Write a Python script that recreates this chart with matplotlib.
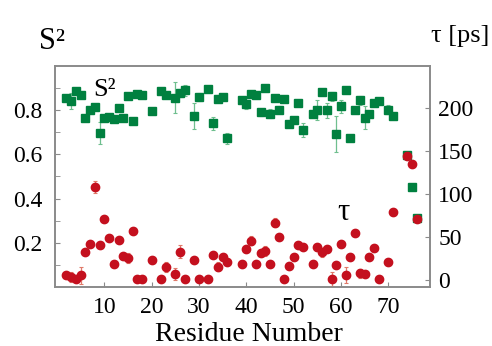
import numpy as np
import matplotlib.pyplot as plt
from matplotlib import font_manager

# make sure a Times-like serif face is picked up
for f in font_manager.findSystemFonts():
    if 'LiberationSerif' in f.replace(' ', ''):
        font_manager.fontManager.addfont(f)
plt.rcParams['font.family'] = ['Liberation Serif', 'DejaVu Serif']

# residue numbers (ubiquitin, prolines missing)
residues = [2, 3, 4, 5, 6, 7, 8, 9, 10, 11, 12, 13, 14, 15, 16, 17, 18, 20, 22, 23,
            25, 26, 27, 29, 30, 32, 33, 34, 35, 36, 39, 40, 41, 42, 43, 44, 45, 46, 47, 48,
            49, 50, 51, 52, 54, 55, 56, 57, 58, 59, 60, 61, 62, 63, 64, 65, 66, 67, 68, 70,
            71, 74, 75, 76]

s2 = [0.855, 0.842, 0.886, 0.871, 0.765, 0.800, 0.813, 0.698, 0.763, 0.770, 0.761, 0.809,
      0.763, 0.863, 0.750, 0.875, 0.871, 0.797, 0.887, 0.871, 0.857, 0.878, 0.890, 0.773,
      0.860, 0.896, 0.740, 0.853, 0.860, 0.672, 0.845, 0.826, 0.872, 0.871, 0.790, 0.902,
      0.785, 0.857, 0.803, 0.850, 0.737, 0.755, 0.833, 0.710, 0.782, 0.803, 0.882, 0.800,
      0.863, 0.692, 0.818, 0.890, 0.672, 0.800, 0.845, 0.767, 0.785, 0.833, 0.842, 0.803,
      0.774, 0.599, 0.453, 0.312]

s2_err = [0.01, 0.035, 0.01, 0.01, 0.01, 0.01, 0.01, 0.05, 0.01, 0.01, 0.01, 0.01,
          0.01, 0.01, 0.01, 0.01, 0.01, 0.015, 0.01, 0.01, 0.07, 0.02, 0.025, 0.06,
          0.02, 0.01, 0.03, 0.015, 0.01, 0.025, 0.01, 0.02, 0.01, 0.01, 0.015, 0.01,
          0.02, 0.01, 0.015, 0.01, 0.01, 0.01, 0.01, 0.03, 0.01, 0.045, 0.01, 0.035,
          0.02, 0.08, 0.03, 0.01, 0.01, 0.01, 0.02, 0.05, 0.01, 0.01, 0.01, 0.02,
          0.01, 0.01, 0.005, 0.005]

tau = [5.5, 3.1, 1, 5.5, 33, 42, 108, 41, 71, 49, 18.6, 46, 28.3, 25.6, 57, 1, 1, 23,
       1, 14.8, 7, 33, 1, 23, 1, 1, 29, 15.5, 26.4, 21, 18.6, 35.7, 45.8, 19, 31, 34,
       18.3, 66.7, 50, 1, 16, 27, 40.8, 38.8, 18.6, 38, 32, 35.7, 1, 17.5, 42, 5.8,
       27, 54.4, 7.8, 7, 27, 37, 1, 21.3, 79.6, 144, 135, 70.7]

tau_err = [2, 6, 2, 10, 2, 2, 7, 2, 2, 2, 2, 2, 2, 6, 2, 2, 2, 2, 2, 6, 7, 8, 2, 2,
           2, 2, 2, 5, 2, 2, 2, 2, 5, 2, 2, 6, 2, 5, 2, 2, 2, 2, 2, 2, 2, 4, 5, 2,
           8, 2, 2, 9, 2, 2, 5, 4, 2, 2, 2, 2, 2, 2, 2, 2]

green = '#00803f'
red = '#c4101e'
grey = '#8a8a8a'

fig = plt.figure(figsize=(4.92, 3.46), dpi=100)
ax = fig.add_axes([0.112, 0.171, 0.762, 0.638])
ax2 = ax.twinx()

ax.errorbar(residues, s2, yerr=s2_err, fmt='s', color=green, ms=5.5,
            ecolor='#6fbf8f', elinewidth=0.9, capsize=1.5, capthick=0.8)
ax2.errorbar(residues, tau, yerr=tau_err, fmt='o', color=red, ms=6,
             ecolor='#e07a6a', elinewidth=0.9, capsize=1.5, capthick=0.8)

ax.set_xlim(-0.4, 78.8)
ax.set_ylim(0, 1)
ax2.set_ylim(-8, 249)

ax.set_xticks([10, 20, 30, 40, 50, 60, 70])
ax.set_yticks([0.2, 0.4, 0.6, 0.8])
ax.set_yticks([0.1, 0.3, 0.5, 0.7, 0.9], minor=True)
ax2.set_yticks([0, 50, 100, 150, 200])

for a in (ax, ax2):
    for sp in a.spines.values():
        sp.set_color(grey)
        sp.set_linewidth(1.2)
ax.tick_params(which='both', direction='in', length=3.5, color=grey, labelsize=17,
               top=False, right=False)
ax.tick_params(axis='y', pad=9)
ax.tick_params(axis='x', pad=7)
ax2.tick_params(direction='in', length=3.5, color=grey, labelsize=17, pad=6)

ax.set_xlabel('Residue Number', fontsize=20)
ax.xaxis.set_label_coords(0.517, -0.16)

fig.text(0.08, 0.88, 'S²', fontsize=22, ha='left', va='center')
fig.text(0.995, 0.895, 'τ [ps]', fontsize=19, ha='right', va='center')
ax.text(10, 0.89, 'S²', fontsize=19, ha='center', va='center')
ax2.text(60.5, 78, 'τ', fontsize=22, ha='center', va='center')

plt.savefig('out.png', dpi=100)
